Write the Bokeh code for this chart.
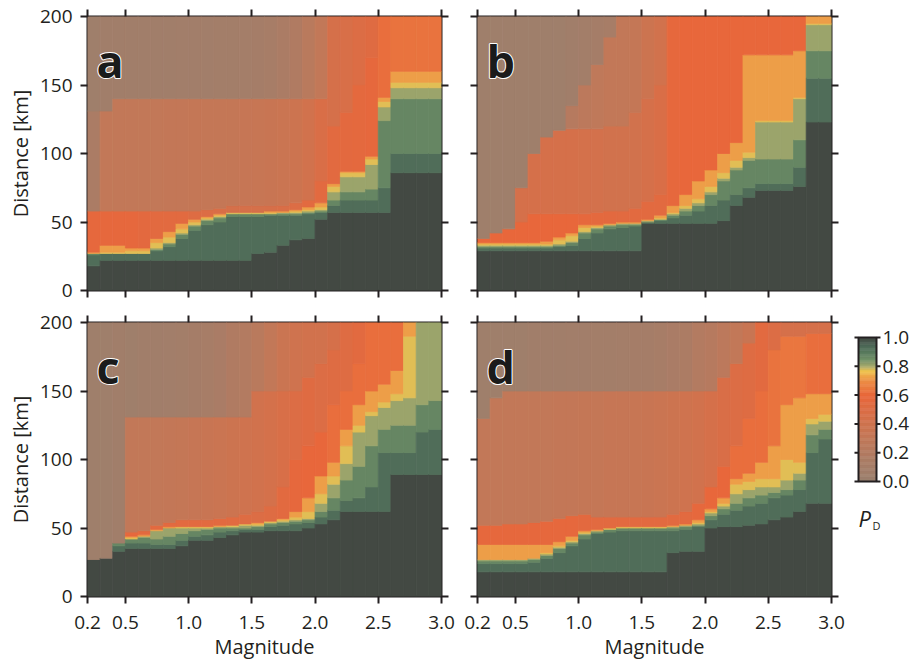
import numpy as np
from bokeh.plotting import figure
from bokeh.layouts import row, column
from bokeh.models import (Range1d, LinearAxis, FixedTicker, PrintfTickFormatter,
                          LinearColorMapper, ColumnDataSource)
from bokeh.transform import transform
from bokeh.embed import file_html
from bokeh.resources import INLINE
from bokeh.core.properties import value

# ---------------- data ----------------
M_LEFT = [0.2, 0.3, 0.4, 0.5, 0.6, 0.7, 0.8, 0.9, 1.0, 1.1, 1.2, 1.3, 1.4, 1.5,
          1.6, 1.7, 1.8, 1.9, 2.0, 2.1, 2.2, 2.3, 2.4, 2.5, 2.6, 2.7, 2.8, 2.9]
M_RIGHT = [0.3, 0.4, 0.5, 0.6, 0.7, 0.8, 0.9, 1.0, 1.1, 1.2, 1.3, 1.4, 1.5, 1.6,
           1.7, 1.8, 1.9, 2.0, 2.1, 2.2, 2.3, 2.4, 2.5, 2.6, 2.7, 2.8, 2.9, 3.0]
X_TICKS = [0.2, 0.5, 1.0, 1.5, 2.0, 2.5, 3.0]
Y_TICKS = [0, 50, 100, 150, 200]
CB_TICKS = [0.0, 0.2, 0.4, 0.6, 0.8, 1.0]
CB_LABELS = ["0.0", "0.2", "0.4", "0.6", "0.8", "1.0"]
D_MAX = 200

# P_D of the high-probability bands (bottom -> top)
BAND_P = [1.0, 0.93, 0.87, 0.81, 0.775, 0.72]

# colour scale stops
CMAP_P = [0.0, 0.15, 0.30, 0.45, 0.60, 0.70, 0.77, 0.80, 0.85, 0.90, 0.95, 1.0]
CMAP_C = ["#9a806e", "#ab7c65", "#c27858", "#d5704a", "#e8673b", "#ec8d45",
          "#f0c44f", "#a9aa6c", "#6f8f67", "#587a5e", "#4c6656", "#434943"]

# ---- panel a ----
A_D100 = [18, 22, 22, 22, 22, 22, 22, 22, 22, 22, 22, 22, 22, 27, 28, 33, 37, 38, 52, 57, 57, 57, 57, 57, 86, 86, 86, 86]
A_D93 = [26, 27, 27, 27, 27, 29, 32, 38, 44, 48, 50, 54, 54, 54, 55, 55, 55, 56, 57, 62, 66, 66, 66, 75, 100, 100, 100, 100]
A_D88 = [27, 27, 27, 27, 27, 30, 34, 41, 47, 51, 53, 56, 56, 56, 56, 56, 56, 57, 58, 66, 72, 72, 74, 124, 140, 140, 140, 140]
A_D83 = [27, 27, 27, 27, 27, 31, 35, 42, 48, 52, 54, 56, 56, 56, 56, 57, 57, 58, 59, 72, 83, 83, 92, 134, 148, 148, 148, 148]
A_D78 = [27, 28, 28, 29, 29, 35, 39, 45, 50, 53, 55, 57, 57, 57, 57, 57, 58, 59, 61, 76, 86, 86, 96, 138, 152, 152, 152, 152]
A_D72 = [28, 33, 33, 31, 31, 38, 43, 49, 52, 54, 56, 57, 57, 57, 58, 58, 59, 61, 64, 78, 87, 87, 98, 141, 160, 160, 160, 160]
A_P1 = [0.58, 0.58, 0.58, 0.58, 0.56, 0.55, 0.55, 0.55, 0.52, 0.50, 0.48, 0.45, 0.45, 0.45, 0.46, 0.48, 0.50, 0.55, 0.55, 0.55, 0.56, 0.57, 0.58, 0.62, 0.63, 0.63, 0.63, 0.63]
A_D1 = [58, 58, 58, 58, 58, 58, 58, 58, 58, 59, 60, 62, 62, 62, 62, 62, 64, 66, 80, 120, 130, 150, 170, 200, 200, 200, 200, 200]
A_P2 = [0.15, 0.30, 0.30, 0.30, 0.30, 0.30, 0.31, 0.31, 0.32, 0.32, 0.32, 0.32, 0.33, 0.34, 0.35, 0.36, 0.38, 0.42, 0.48, 0.45, 0.47, 0.50, 0.53, 0.62, 0.63, 0.63, 0.63, 0.63]
A_D2 = [131, 131, 140, 140, 140, 140, 140, 140, 140, 140, 140, 140, 140, 140, 140, 140, 140, 140, 140, 200, 200, 200, 200, 200, 200, 200, 200, 200]
A_P3 = [0.05, 0.06, 0.06, 0.06, 0.06, 0.06, 0.06, 0.07, 0.07, 0.07, 0.08, 0.08, 0.09, 0.10, 0.12, 0.15, 0.18, 0.24, 0.30, 0.45, 0.47, 0.50, 0.53, 0.62, 0.63, 0.63, 0.63, 0.63]

# ---- panel b ----
B_D100 = [29, 29, 29, 29, 29, 29, 29, 29, 29, 29, 29, 29, 29, 49, 49, 49, 49, 49, 49, 51, 62, 68, 73, 73, 73, 76, 123, 123]
B_D93 = [31, 31, 31, 31, 31, 31, 32, 33, 38, 42, 45, 46, 47, 50, 51, 53, 55, 58, 62, 66, 70, 75, 78, 78, 78, 90, 155, 155]
B_D88 = [32, 32, 32, 32, 32, 32, 33, 35, 42, 45, 47, 48, 48, 50, 52, 55, 58, 62, 70, 80, 88, 95, 96, 96, 96, 110, 175, 175]
B_D83 = [33, 33, 33, 33, 33, 33, 34, 36, 43, 46, 48, 49, 49, 51, 52, 56, 60, 64, 72, 82, 90, 97, 123, 123, 123, 140, 194, 194]
B_D78 = [34, 34, 34, 34, 34, 34, 37, 40, 46, 47, 48, 49, 49, 51, 53, 57, 62, 67, 76, 86, 95, 101, 124, 124, 124, 141, 195, 195]
B_D72 = [35, 35, 35, 35, 35, 36, 39, 42, 48, 48, 49, 50, 50, 52, 55, 62, 70, 80, 88, 100, 108, 172, 172, 172, 172, 175, 200, 200]
B_P1 = [0.60, 0.60, 0.60, 0.60, 0.60, 0.60, 0.60, 0.60, 0.58, 0.57, 0.56, 0.55, 0.55, 0.55, 0.55, 0.58, 0.60, 0.60, 0.60, 0.60, 0.60, 0.60, 0.60, 0.60, 0.60, 0.60, 0.60, 0.60]
B_D1 = [38, 42, 45, 50, 56, 56, 56, 56, 56, 57, 58, 58, 60, 65, 70, 200, 200, 200, 200, 200, 200, 200, 200, 200, 200, 200, 200, 200]
B_P2 = [0.05, 0.05, 0.05, 0.45, 0.45, 0.45, 0.45, 0.45, 0.44, 0.43, 0.42, 0.42, 0.42, 0.45, 0.48, 0.58, 0.60, 0.60, 0.60, 0.60, 0.60, 0.60, 0.60, 0.60, 0.60, 0.60, 0.60, 0.60]
B_D2 = [200, 200, 200, 75, 100, 112, 117, 118, 118, 118, 120, 120, 130, 140, 150, 200, 200, 200, 200, 200, 200, 200, 200, 200, 200, 200, 200, 200]
B_P3 = [0.05, 0.05, 0.05, 0.05, 0.05, 0.05, 0.05, 0.22, 0.26, 0.28, 0.30, 0.30, 0.32, 0.38, 0.42, 0.58, 0.60, 0.60, 0.60, 0.60, 0.60, 0.60, 0.60, 0.60, 0.60, 0.60, 0.60, 0.60]
B_D3 = [200, 200, 200, 200, 200, 200, 200, 135, 150, 165, 185, 200, 200, 200, 200, 200, 200, 200, 200, 200, 200, 200, 200, 200, 200, 200, 200, 200]
B_P4 = [0.05, 0.05, 0.05, 0.05, 0.05, 0.05, 0.05, 0.06, 0.08, 0.10, 0.12, 0.30, 0.32, 0.38, 0.42, 0.58, 0.60, 0.60, 0.60, 0.60, 0.60, 0.60, 0.60, 0.60, 0.60, 0.60, 0.60, 0.60]

# ---- panel c ----
C_D100 = [27, 28, 33, 35, 35, 35, 35, 37, 41, 41, 43, 45, 47, 47, 48, 48, 48, 50, 53, 56, 62, 62, 62, 62, 89, 89, 89, 89]
C_D93 = [27, 28, 37, 39, 39, 38, 38, 41, 44, 45, 47, 48, 49, 49, 51, 52, 53, 54, 58, 63, 70, 72, 80, 105, 105, 105, 120, 122]
C_D88 = [27, 28, 39, 42, 43, 42, 44, 46, 48, 49, 50, 50, 50, 51, 53, 54, 55, 56, 62, 72, 85, 95, 110, 122, 125, 125, 140, 143]
C_D83 = [27, 28, 39, 42, 44, 48, 50, 50, 50, 50, 51, 51, 52, 52, 54, 55, 56, 57, 68, 82, 97, 120, 132, 138, 143, 145, 200, 200]
C_D78 = [27, 28, 39, 43, 44, 48, 50, 51, 51, 51, 51, 52, 53, 53, 55, 56, 58, 62, 75, 88, 110, 125, 135, 142, 148, 190, 200, 200]
C_D72 = [27, 28, 39, 44, 45, 49, 51, 51, 51, 51, 52, 52, 53, 54, 55, 57, 62, 72, 88, 98, 122, 140, 150, 155, 165, 200, 200, 200]
C_P1 = [0.05, 0.05, 0.06, 0.58, 0.56, 0.55, 0.55, 0.55, 0.55, 0.55, 0.55, 0.54, 0.52, 0.50, 0.52, 0.55, 0.58, 0.60, 0.60, 0.62, 0.62, 0.62, 0.62, 0.62, 0.62, 0.62, 0.62, 0.62]
C_D1 = [200, 200, 200, 47, 48, 52, 54, 56, 56, 56, 57, 58, 60, 62, 66, 80, 100, 110, 120, 140, 150, 170, 200, 200, 200, 200, 200, 200]
C_P2 = [0.05, 0.05, 0.06, 0.30, 0.30, 0.30, 0.31, 0.32, 0.33, 0.35, 0.36, 0.38, 0.40, 0.42, 0.44, 0.47, 0.50, 0.53, 0.50, 0.52, 0.52, 0.55, 0.62, 0.62, 0.62, 0.62, 0.62, 0.62]
C_D2 = [200, 200, 200, 131, 131, 131, 131, 131, 131, 131, 131, 131, 131, 150, 150, 150, 150, 160, 170, 180, 200, 200, 200, 200, 200, 200, 200, 200]
C_P3 = [0.05, 0.05, 0.06, 0.05, 0.06, 0.06, 0.07, 0.08, 0.10, 0.12, 0.14, 0.18, 0.20, 0.24, 0.30, 0.36, 0.40, 0.42, 0.42, 0.45, 0.52, 0.55, 0.62, 0.62, 0.62, 0.62, 0.62, 0.62]

# ---- panel d ----
D_D100 = [18, 18, 18, 18, 18, 18, 18, 18, 18, 18, 18, 18, 18, 18, 18, 32, 33, 33, 50, 51, 51, 52, 53, 56, 58, 62, 68, 68]
D_D93 = [24, 24, 24, 24, 25, 28, 32, 37, 42, 46, 47, 48, 48, 48, 48, 48, 49, 51, 56, 60, 63, 66, 68, 72, 74, 78, 105, 115]
D_D88 = [26, 26, 26, 26, 27, 30, 35, 39, 45, 47, 49, 50, 50, 50, 50, 50, 51, 52, 59, 64, 68, 72, 74, 76, 78, 85, 118, 122]
D_D83 = [27, 27, 27, 27, 28, 31, 36, 40, 46, 48, 49, 50, 50, 50, 50, 51, 52, 53, 61, 66, 75, 78, 80, 80, 85, 90, 126, 128]
D_D78 = [27, 27, 27, 27, 28, 32, 37, 41, 47, 48, 50, 51, 51, 51, 51, 51, 52, 54, 62, 68, 82, 84, 86, 86, 100, 98, 130, 133]
D_D72 = [38, 38, 38, 38, 38, 38, 40, 44, 48, 49, 50, 51, 51, 51, 51, 52, 53, 56, 64, 72, 86, 90, 98, 110, 140, 145, 148, 148]
D_P1 = [0.58, 0.58, 0.58, 0.58, 0.58, 0.58, 0.58, 0.58, 0.56, 0.55, 0.55, 0.55, 0.55, 0.55, 0.55, 0.55, 0.55, 0.58, 0.60, 0.60, 0.62, 0.62, 0.62, 0.63, 0.64, 0.64, 0.62, 0.62]
D_D1 = [52, 52, 53, 53, 54, 55, 57, 59, 60, 58, 58, 58, 58, 58, 58, 60, 62, 68, 80, 95, 110, 130, 150, 180, 190, 190, 192, 192]
D_P2 = [0.30, 0.30, 0.30, 0.30, 0.30, 0.30, 0.31, 0.31, 0.32, 0.32, 0.33, 0.33, 0.34, 0.35, 0.36, 0.38, 0.40, 0.42, 0.45, 0.48, 0.50, 0.52, 0.55, 0.50, 0.45, 0.45, 0.45, 0.45]
D_D2 = [130, 145, 150, 150, 150, 150, 150, 150, 150, 150, 150, 150, 150, 150, 150, 150, 150, 150, 150, 160, 170, 185, 200, 200, 200, 200, 200, 200]
D_P3 = [0.05, 0.05, 0.05, 0.05, 0.06, 0.06, 0.06, 0.07, 0.07, 0.08, 0.08, 0.09, 0.10, 0.10, 0.12, 0.14, 0.16, 0.20, 0.22, 0.26, 0.30, 0.35, 0.55, 0.50, 0.45, 0.45, 0.45, 0.45]

PANELS = {
    "a": dict(bands=[A_D100, A_D93, A_D88, A_D83, A_D78, A_D72],
              upper=[(A_P1, A_D1), (A_P2, A_D2), (A_P3, None)]),
    "b": dict(bands=[B_D100, B_D93, B_D88, B_D83, B_D78, B_D72],
              upper=[(B_P1, B_D1), (B_P2, B_D2), (B_P3, B_D3), (B_P4, None)]),
    "c": dict(bands=[C_D100, C_D93, C_D88, C_D83, C_D78, C_D72],
              upper=[(C_P1, C_D1), (C_P2, C_D2), (C_P3, None)]),
    "d": dict(bands=[D_D100, D_D93, D_D88, D_D83, D_D78, D_D72],
              upper=[(D_P1, D_D1), (D_P2, D_D2), (D_P3, None)]),
}

# ---------------- colours ----------------
def _rgb(h):
    return np.array([int(h[i:i + 2], 16) for i in (1, 3, 5)], dtype=float)

_stops = [_rgb(c) for c in CMAP_C]

def color_at(p):
    p = min(max(p, 0.0), 1.0)
    for k in range(len(CMAP_P) - 1):
        if CMAP_P[k] <= p <= CMAP_P[k + 1]:
            t = (p - CMAP_P[k]) / (CMAP_P[k + 1] - CMAP_P[k])
            c = _stops[k] * (1 - t) + _stops[k + 1] * t
            return "#%02x%02x%02x" % tuple(int(round(v)) for v in c)
    return CMAP_C[-1]

PALETTE = [color_at(i / 255.0) for i in range(256)]
mapper = LinearColorMapper(palette=PALETTE, low=0.0, high=1.0)

FONT = value("Open Sans")
INK = "#231f20"


def cells(spec):
    L, R, B, T, P = [], [], [], [], []
    for j in range(len(M_LEFT)):
        lo = 0.0
        segs = [(BAND_P[k], spec["bands"][k][j]) for k in range(len(BAND_P))]
        for parr, darr in spec["upper"]:
            segs.append((parr[j], D_MAX if darr is None else darr[j]))
        for pv, hi in segs:
            if hi > lo:
                L.append(M_LEFT[j]); R.append(M_RIGHT[j])
                B.append(lo); T.append(hi); P.append(pv)
                lo = hi
    return ColumnDataSource(dict(left=L, right=R, bottom=B, top=T, p=P))


def style_axis(ax, labels):
    ax.axis_line_color = None
    ax.major_tick_line_color = INK
    ax.major_tick_line_width = 2
    ax.major_tick_out = 7
    ax.major_tick_in = 0
    ax.minor_tick_line_color = None
    if labels:
        ax.major_label_text_font = "Open Sans"
        ax.major_label_text_font_size = "19px"
        ax.major_label_text_color = INK
        ax.axis_label_text_font = "Open Sans"
        ax.axis_label_text_font_size = "20px"
        ax.axis_label_text_font_style = "normal"
        ax.axis_label_text_color = INK
    else:
        ax.major_label_text_font_size = "1px"
        ax.major_label_text_color = None
        ax.major_label_standoff = 0


def make_panel(letter, width, height, borders, left_labels, bottom_labels):
    bl, br, bt, bb = borders
    p = figure(width=width, height=height, x_range=Range1d(0.2, 3.0), y_range=Range1d(0, 200),
               output_backend="svg", toolbar_location=None,
               min_border_left=bl, min_border_right=br, min_border_top=bt, min_border_bottom=bb)
    p.grid.visible = False
    p.background_fill_color = "white"
    p.outline_line_color = INK
    p.outline_line_width = 2
    src = cells(PANELS[letter])
    p.quad(left="left", right="right", bottom="bottom", top="top", source=src,
           fill_color=transform("p", mapper), line_color=transform("p", mapper), line_width=0.8)

    p.xaxis.ticker = FixedTicker(ticks=X_TICKS)
    p.yaxis.ticker = FixedTicker(ticks=Y_TICKS)
    p.xaxis.formatter = PrintfTickFormatter(format="%.1f")
    style_axis(p.xaxis[0], bottom_labels)
    style_axis(p.yaxis[0], left_labels)
    if bottom_labels:
        p.xaxis.major_label_standoff = 12
        p.xaxis.axis_label = "Magnitude"
        p.xaxis.axis_label_standoff = 1
    if left_labels:
        p.yaxis.major_label_standoff = 8
        p.yaxis.axis_label = "Distance [km]"
        p.yaxis.axis_label_standoff = 3
    top = LinearAxis(ticker=FixedTicker(ticks=X_TICKS))
    right = LinearAxis(ticker=FixedTicker(ticks=Y_TICKS))
    style_axis(top, False)
    style_axis(right, False)
    p.add_layout(top, "above")
    p.add_layout(right, "right")

    # panel letter: white halo then dark letter
    p.text(x=[0.2], y=[200], text=[letter], x_offset=9, y_offset=44,
           text_font=FONT, text_font_style="bold", text_font_size="45px",
           text_color="white", text_outline_color="white",
           text_baseline="alphabetic", text_align="left")
    p.text(x=[0.2], y=[200], text=[letter], x_offset=9, y_offset=44,
           text_font=FONT, text_font_style="bold", text_font_size="45px",
           text_color="#1b1b1b",
           text_baseline="alphabetic", text_align="left")
    return p


pa = make_panel("a", 459, 306, (87, 18, 16, 16), True, False)
pb = make_panel("b", 380, 306, (18, 8, 16, 16), False, False)
pc = make_panel("c", 459, 356, (87, 18, 16, 66), True, True)
pd = make_panel("d", 386, 356, (18, 14, 16, 66), False, True)

# ---------------- colour bar (own small frame, aligned with row 2 frames) ----------------
CB_N = 120
PX = 1 / 18.0      # one screen pixel in x data units (bar is 18 px wide)
PY = 1 / 144.0     # one screen pixel in y data units (bar is 144 px tall)
cb = figure(width=75, height=356, x_range=Range1d(-13 * PX, 62 * PX), y_range=Range1d(1 - 259 * PY, 1 + 15 * PY),
            output_backend="svg", toolbar_location=None, x_axis_location=None, y_axis_location=None,
            min_border_left=0, min_border_right=0, min_border_top=16, min_border_bottom=66)
cb.grid.visible = False
cb.outline_line_color = None
edges = np.linspace(0, 1, CB_N + 1)
cb_src = ColumnDataSource(dict(bottom=edges[:-1], top=edges[1:], p=(edges[:-1] + edges[1:]) / 2))
cb.quad(left=0, right=1, bottom="bottom", top="top", source=cb_src,
        fill_color=transform("p", mapper), line_color=transform("p", mapper), line_width=0.6)
cb.quad(left=[0], right=[1], bottom=[0], top=[1], fill_color=None, line_color=INK, line_width=2)
cb.segment(x0=-4 * PX, x1=0, y0=CB_TICKS, y1=CB_TICKS, line_color=INK, line_width=2)
cb.segment(x0=1, x1=1 + 4 * PX, y0=CB_TICKS, y1=CB_TICKS, line_color=INK, line_width=2)
cb.text(x=1 + 6 * PX, y=CB_TICKS, text=CB_LABELS, text_font=FONT, text_font_size="19px",
        text_color=INK, text_align="left", text_baseline="middle")
cb.text(x=[0.0], y=[1 - 180 * PY], text=["P"], text_font=FONT, text_font_style="italic",
        text_font_size="22px", text_color=INK, text_baseline="alphabetic", text_align="left")
cb.text(x=[14 * PX], y=[1 - 188 * PY], text=["D"], text_font=FONT,
        text_font_size="11px", text_color=INK, text_baseline="alphabetic", text_align="left")

layout = column(row(pa, pb), row(pc, pd, cb))
open("out.html", "w").write(file_html(layout, INLINE))
